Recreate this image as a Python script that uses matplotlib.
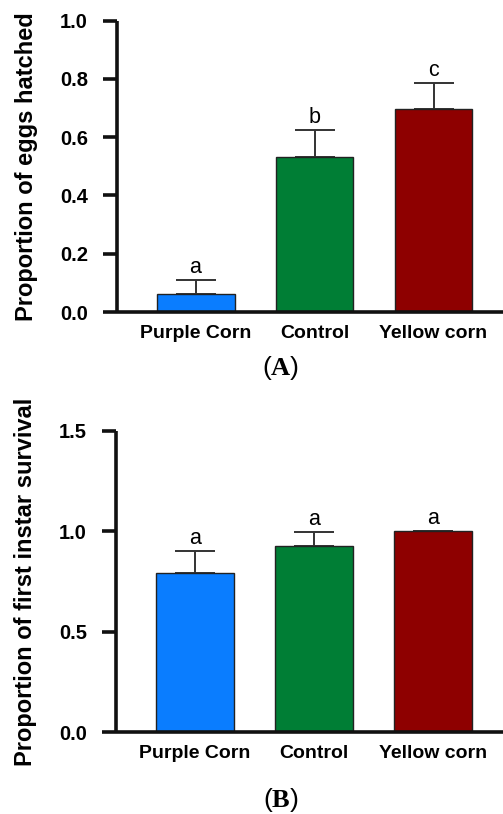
import numpy as np
import matplotlib
matplotlib.use("Agg")
import matplotlib.pyplot as plt

plt.rcParams['font.family'] = ['Liberation Sans', 'DejaVu Sans']
plt.rcParams['mathtext.fontset'] = 'custom'
plt.rcParams['mathtext.rm'] = 'Liberation Serif'
plt.rcParams['mathtext.bf'] = 'Liberation Serif:bold'

# treatments and measured proportions
treatments = ['Purple Corn', 'Control', 'Yellow corn']
bar_colors = ['#0A7DFF', '#007E35', '#8E0000']

hatch_mean = [0.062, 0.531, 0.697]
hatch_err = [0.048, 0.095, 0.089]
hatch_letters = ['a', 'b', 'c']

survival_mean = [0.79, 0.927, 1.0]
survival_err = [0.11, 0.07, 0.0]
survival_letters = ['a', 'a', 'a']


def bar_panel(ax, means, errs, letters, ylim, yticks, ylabel):
    x = np.arange(len(treatments))
    ax.bar(x, means, width=0.655, color=bar_colors, edgecolor='#222222',
           linewidth=1.0, zorder=2)
    ax.errorbar(x, means, yerr=[np.zeros(len(errs)), errs], fmt='none',
                ecolor='#333333', elinewidth=1.4, capsize=14.5, capthick=1.4,
                zorder=1)
    for xi, m, e, lab in zip(x, means, errs, letters):
        ax.annotate(lab, (xi, m + e), xytext=(0, 1.5), textcoords='offset points',
                    ha='center', va='bottom', fontsize=15.5)
    ax.set_xlim(-0.66, 2.584)
    ax.set_ylim(*ylim)
    ax.set_yticks(yticks)
    ax.set_yticklabels(['%.1f' % t for t in yticks], fontweight='bold', fontsize=14.5)
    ax.set_xticks(x)
    ax.set_xticklabels(treatments, fontweight='bold', fontsize=14)
    ax.tick_params(axis='x', length=0, pad=9)
    ax.tick_params(axis='y', length=10, width=2.6, pad=11, color='#111111')
    for s in ['top', 'right']:
        ax.spines[s].set_visible(False)
    for s in ['left', 'bottom']:
        ax.spines[s].set_linewidth(2.6)
        ax.spines[s].set_color('#111111')
        ax.spines[s].set_capstyle('butt')
    ax.set_ylabel(ylabel, fontweight='bold', fontsize=17)
    ax.yaxis.set_label_coords(-0.235, 0.5)
    ax.yaxis.label.set_verticalalignment('center')


fig = plt.figure(figsize=(5.03, 8.14), dpi=100)
ax1 = fig.add_axes([0.2326, 0.6167, 0.7674, 0.3579])
ax2 = fig.add_axes([0.2306, 0.1004, 0.7694, 0.3705])

bar_panel(ax1, hatch_mean, hatch_err, hatch_letters, (0, 1.0),
          [0.0, 0.2, 0.4, 0.6, 0.8, 1.0], 'Proportion of eggs hatched')
bar_panel(ax2, survival_mean, survival_err, survival_letters, (0, 1.5),
          [0.0, 0.5, 1.0, 1.5], 'Proportion of first instar survival')

fig.text(0.5586, 0.548, r'($\mathbf{A}$)', ha='center', va='center', fontsize=19)
fig.text(0.5586, 0.0172, r'($\mathbf{B}$)', ha='center', va='center', fontsize=19)

fig.savefig('out.png', dpi=100)
